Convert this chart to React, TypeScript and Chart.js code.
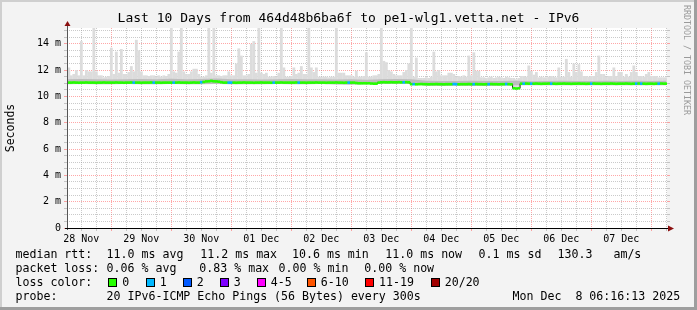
import React, { useEffect, useRef } from 'react';
import { Chart, registerables } from 'chart.js';

Chart.register(...registerables);

const MONO = '"DejaVu Sans Mono", monospace';
const TITLE = 'Last 10 Days from 464d48b6ba6f to pe1-wlg1.vetta.net - IPv6';
const Y_TITLE = 'Seconds';

// x axis: hours since 28 Nov 00:00; graph spans 28 Nov 06:16 .. 08 Dec 06:16
const RANGE_START = 6.27;
const RANGE_END = 246.27;
const dayLabels = ['28 Nov', '29 Nov', '30 Nov', '01 Dec', '02 Dec', '03 Dec', '04 Dec', '05 Dec', '06 Dec', '07 Dec'];
const yMajorTicks = [0, 2, 4, 6, 8, 10, 12, 14];

// hourly bins from 28 Nov 07:00 to 08 Dec 06:00 (240 bins)
const FIRST_BIN_HOUR = 7;

// highest ping of each hourly bin (ms) - the light smoke tops
const smokeMax = [
  12.2, 11.6, 11.7, 12.0, 11.6, 14.2, 11.6, 12.0, 11.9, 11.9, 15.2, 11.9, 11.6, 11.6, 11.45, 11.5, 11.55,
  13.7, 11.7, 13.4, 11.8, 13.6, 11.7, 11.7, 11.85, 12.3, 11.9, 14.3, 13.5, 11.9, 11.6, 11.6, 11.55, 11.6, 11.6, 11.5, 11.6, 11.5, 11.6, 11.55, 11.7,
  15.2, 11.9, 11.8, 13.4, 15.2, 11.9, 11.7, 11.7, 11.9, 12.1, 12.1, 11.7, 11.5, 11.5, 11.6, 15.2, 11.8, 15.2, 11.6, 11.6, 11.55, 11.6, 11.6, 11.9,
  11.6, 11.6, 12.5, 13.65, 13.1, 11.6, 11.6, 11.7, 14.0, 14.2, 11.8, 15.2, 11.8, 11.7, 11.8, 11.5, 11.5, 11.55, 11.5, 11.8, 15.2, 12.2, 11.5, 11.5,
  11.55, 12.2, 11.7, 11.8, 12.3, 11.7, 11.7, 15.2, 12.2, 11.85, 12.2, 11.5, 11.5, 11.5, 11.5, 11.45, 11.5, 11.5, 15.2, 11.8, 11.8, 11.8, 11.6, 11.6,
  11.6, 11.5, 11.95, 11.5, 11.5, 11.55, 13.35, 11.5, 11.5, 11.6, 11.6, 11.7, 15.2, 12.7, 12.6, 12.0, 11.9, 11.7, 11.6, 11.6, 11.6, 11.85, 12.0, 12.5,
  15.2, 11.5, 12.95, 11.4, 11.4, 11.4, 11.45, 11.4, 11.5, 13.4, 11.9, 12.0, 11.6, 11.6, 11.6, 11.8, 11.8, 11.7, 11.5, 11.55, 11.5, 11.6, 11.5, 13.1,
  11.6, 13.35, 11.95, 11.95, 11.45, 11.45, 11.4, 11.45, 11.5, 11.4, 11.45, 11.5, 11.45, 11.4, 11.5, 11.45, 11.4, 11.4, 11.3, 11.4, 11.55, 11.55, 11.5, 12.35,
  11.95, 11.65, 11.85, 11.45, 11.5, 11.45, 11.45, 11.5, 11.55, 11.5, 11.45, 12.2, 11.5, 11.5, 12.85, 11.85, 11.5, 12.5, 11.85, 12.45, 11.9, 11.55, 11.55, 11.5,
  11.55, 11.55, 11.85, 13.1, 11.7, 11.7, 11.5, 11.55, 11.55, 12.2, 11.55, 11.85, 11.85, 11.5, 11.7, 11.5, 11.85, 12.35, 11.85, 11.55, 11.55, 11.5, 11.7, 11.85,
  11.55, 11.55, 11.55, 11.45, 11.45, 11.45, 11.45,
];

// median rtt of each hourly bin (ms)
const median = [
  11.05, 11.05, 11.06, 11.05, 11.04, 11.05, 11.05, 11.06, 11.05, 11.05, 11.05, 11.04, 11.05, 11.05, 11.06, 11.05, 11.05,
  11.05, 11.05, 11.06, 11.05, 11.05, 11.04, 11.05, 11.05, 11.06, 11.05, 11.05, 11.05, 11.04, 11.05, 11.05, 11.05, 11.06, 11.05, 11.05, 11.05, 11.04, 11.05, 11.05, 11.05,
  11.05, 11.05, 11.05, 11.06, 11.05, 11.05, 11.05, 11.04, 11.05, 11.06, 11.05, 11.05, 11.08, 11.1, 11.14, 11.15, 11.18, 11.15, 11.14, 11.12, 11.08, 11.05, 11.05, 11.05,
  11.05, 11.05, 11.04, 11.05, 11.05, 11.06, 11.05, 11.05, 11.05, 11.04, 11.05, 11.05, 11.06, 11.05, 11.05, 11.05, 11.04, 11.05, 11.05, 11.05, 11.06, 11.05, 11.05, 11.05,
  11.05, 11.05, 11.06, 11.05, 11.05, 11.05, 11.04, 11.05, 11.05, 11.05, 11.06, 11.05, 11.05, 11.05, 11.04, 11.05, 11.05, 11.05, 11.06, 11.05, 11.05, 11.04, 11.05, 11.05,
  11.05, 11.05, 11.02, 11.0, 11.0, 11.0, 11.0, 11.0, 10.98, 10.97, 10.97, 11.05, 11.07, 11.08, 11.07, 11.07, 11.08, 11.07, 11.07, 11.08, 11.07, 11.07, 11.08, 11.07,
  10.93, 10.93, 10.92, 10.93, 10.94, 10.93, 10.93, 10.92, 10.93, 10.93, 10.94, 10.93, 10.93, 10.92, 10.93, 10.93, 10.93, 10.94, 10.93, 10.92, 10.93, 10.93, 10.93, 10.94,
  10.93, 10.93, 10.94, 10.93, 10.93, 10.92, 10.93, 10.93, 10.94, 10.93, 10.93, 10.92, 10.93, 10.93, 10.94, 10.93, 10.92, 10.62, 10.6, 10.62, 10.97, 10.97, 10.98, 10.97,
  10.97, 10.97, 10.98, 10.97, 10.96, 10.97, 10.97, 10.98, 10.97, 10.97, 10.96, 10.97, 10.97, 10.98, 10.97, 10.97, 10.96, 10.97, 10.97, 10.98, 10.97, 10.97, 10.96, 10.97,
  10.97, 10.98, 10.97, 10.97, 10.96, 10.97, 10.97, 10.97, 10.98, 10.97, 10.96, 10.97, 10.97, 10.97, 10.98, 10.97, 10.96, 10.97, 10.97, 10.98, 10.97, 10.97, 10.96, 10.97,
  10.97, 10.96, 10.97, 10.97, 10.98, 10.97, 10.97,
];

// hours (since 28 Nov 00:00) of bins that lost 1 of 20 pings
const lossOneHours = [33, 41, 49, 60, 71, 72, 89, 99, 119, 141, 145, 161, 162, 169, 175, 182, 189, 192, 200, 216, 234, 236, 243];

// dense smoke band around the median, every 6 hours
const bandHours = [6, 12, 18, 24, 30, 36, 42, 48, 54, 60, 66, 72, 78, 84, 90, 96, 102, 108, 114, 120, 126, 132, 138, 144,
  150, 156, 162, 168, 174, 180, 186, 192, 198, 204, 210, 216, 222, 228, 234, 240, 246];
const bandHigh = [11.3, 11.32, 11.3, 11.28, 11.3, 11.33, 11.3, 11.35, 11.3, 11.32, 11.36, 11.3, 11.3, 11.28, 11.3, 11.32, 11.3, 11.3, 11.29, 11.3, 11.27, 11.3, 11.32, 11.3,
  11.2, 11.18, 11.17, 11.2, 11.18, 11.17, 11.2, 11.16, 11.18, 11.2, 11.18, 11.17, 11.2, 11.18, 11.2, 11.18, 11.2];
const bandLow = [10.93, 10.94, 10.93, 10.93, 10.94, 10.93, 10.93, 10.94, 10.93, 10.93, 10.94, 10.93, 10.93, 10.93, 10.94, 10.93, 10.93, 10.94, 10.9, 10.88, 10.94, 10.95, 10.95, 10.95,
  10.81, 10.8, 10.81, 10.8, 10.8, 10.81, 10.84, 10.85, 10.84, 10.85, 10.84, 10.85, 10.84, 10.85, 10.84, 10.85, 10.84];

// legend texts
const rttLegend = ['median rtt:', '11.0 ms avg', '11.2 ms max', '10.6 ms min', '11.0 ms now', '0.1 ms sd', '130.3   am/s'];
const lossLegend = ['packet loss:', '0.06 % avg', '0.83 % max', '0.00 % min', '0.00 % now'];
const lossColorLabels = ['0', '1', '2', '3', '4-5', '6-10', '11-19', '20/20'];
const lossColorValues = ['#26ff00', '#00b8ff', '#0059ff', '#7e00ff', '#ff00ff', '#ff5500', '#ff0000', '#a10000'];
const probeLegend = ['probe:', '20 IPv6-ICMP Echo Pings (56 Bytes) every 300s'];
const STAMP = 'Mon Dec  8 06:16:13 2025';
const WATERMARK = 'RRDTOOL / TOBI OETIKER';

const MGRID = 'rgba(255,80,80,0.5)';
const GRID = 'rgba(150,150,150,0.5)';

const binHours = median.map((_, i) => FIRST_BIN_HOUR + i);
const xTickHours: number[] = [];
for (let h = 12; h <= RANGE_END; h += 6) xTickHours.push(h);
const yTickValues: number[] = [];
for (let v = 0; v <= 15; v += 0.5) yTickValues.push(v);

const framePlugin = {
  id: 'frame',
  beforeDraw(chart: any) {
    const { ctx, chartArea } = chart;
    const { left, top, right, bottom } = chartArea;
    ctx.save();
    ctx.fillStyle = '#ffffff';
    ctx.fillRect(left, top, right - left, bottom - top);
    ctx.restore();
  },
  afterDraw(chart: any) {
    const { ctx, chartArea } = chart;
    const { left, top, right, bottom } = chartArea;
    ctx.save();
    ctx.lineWidth = 1;
    ctx.strokeStyle = '#555555';
    ctx.beginPath();
    ctx.moveTo(left + 0.5, bottom + 2);
    ctx.lineTo(left + 0.5, top - 2);
    ctx.stroke();
    ctx.strokeStyle = '#000000';
    ctx.beginPath();
    ctx.moveTo(left - 2, bottom + 0.5);
    ctx.lineTo(right + 2, bottom + 0.5);
    ctx.stroke();
    ctx.fillStyle = '#8b1010';
    ctx.beginPath();
    ctx.moveTo(right + 1, bottom - 2.5);
    ctx.lineTo(right + 7, bottom + 0.5);
    ctx.lineTo(right + 1, bottom + 3.5);
    ctx.closePath();
    ctx.fill();
    ctx.beginPath();
    ctx.moveTo(left - 2.5, top - 2);
    ctx.lineTo(left + 0.5, top - 7);
    ctx.lineTo(left + 3.5, top - 2);
    ctx.closePath();
    ctx.fill();
    ctx.restore();
  },
};

const gridColor = (c: any) => (c.tick && Math.abs(c.tick.value % 24) < 1e-6 ? MGRID : GRID);
const yGridColor = (c: any) => (c.tick && Math.abs(c.tick.value % 2) < 1e-6 ? MGRID : GRID);

export default function App() {
  const ref = useRef<HTMLCanvasElement>(null);

  useEffect(() => {
    document.body.style.margin = '0';
    const canvas = ref.current;
    if (!canvas) return;
    const chart = new Chart(canvas, {
      type: 'bar',
      data: {
        datasets: [
          {
            type: 'bar',
            label: 'smoke',
            data: binHours.map((h, i) => ({ x: h, y: [median[i], smokeMax[i]] })),
            backgroundColor: '#dcdcdc',
            borderWidth: 0,
            grouped: false,
            barPercentage: 1.12,
            categoryPercentage: 1,
            order: 4,
          },
          {
            type: 'line',
            label: 'band low',
            data: bandHours.map((h, i) => ({ x: h, y: bandLow[i] })),
            borderColor: 'transparent',
            borderWidth: 0,
            pointRadius: 0,
            fill: false,
            order: 3,
          },
          {
            type: 'line',
            label: 'band high',
            data: bandHours.map((h, i) => ({ x: h, y: bandHigh[i] })),
            borderColor: 'transparent',
            borderWidth: 0,
            pointRadius: 0,
            fill: '-1',
            backgroundColor: '#bdbdbd',
            order: 3,
          },
          {
            type: 'line',
            label: 'median',
            data: binHours.map((h, i) => ({ x: h, y: median[i] })),
            stepped: 'middle',
            borderColor: '#202020',
            borderWidth: 1,
            pointRadius: 0,
            fill: false,
            order: 2,
          },
          {
            type: 'bar',
            label: 'median by loss',
            data: binHours.map((h, i) => ({ x: h, y: [median[i] - 0.1, median[i] + 0.1] })),
            backgroundColor: binHours.map((h) => (lossOneHours.includes(h) ? lossColorValues[1] : lossColorValues[0])),
            borderWidth: 0,
            grouped: false,
            barPercentage: 1.12,
            categoryPercentage: 1,
            order: 1,
          },
        ] as any,
      },
      plugins: [framePlugin as any],
      options: {
        responsive: false,
        animation: false,
        devicePixelRatio: 1,
        layout: { padding: 0 },
        plugins: {
          legend: { display: false },
          tooltip: { enabled: false },
          title: {
            display: true,
            text: TITLE,
            color: '#000',
            font: { family: MONO, size: 13, weight: 'normal', lineHeight: 1.2 },
            padding: { top: 11, bottom: 1.4 },
          },
        },
        scales: {
          x: {
            type: 'linear',
            min: RANGE_START,
            max: RANGE_END,
            offset: false,
            afterBuildTicks: (s: any) => {
              s.ticks = xTickHours.map((v) => ({ value: v }));
            },
            afterFit: (s: any) => {
              s.height = 82;
            },
            grid: { offset: false, color: gridColor, tickLength: 3, lineWidth: 1 },
            border: { display: false, dash: [1, 1] },
            ticks: {
              autoSkip: false,
              maxRotation: 0,
              minRotation: 0,
              padding: 2,
              color: '#000',
              font: { family: MONO, size: 10 },
              callback: (v: any) => (Math.abs(v % 24 - 12) < 1e-6 ? dayLabels[Math.floor(v / 24)] : ''),
            },
          },
          y: {
            type: 'linear',
            position: 'left',
            min: 0,
            max: 15.2,
            afterBuildTicks: (s: any) => {
              s.ticks = yTickValues.map((v) => ({ value: v }));
            },
            afterFit: (s: any) => {
              s.width = 67;
            },
            grid: { color: yGridColor, tickLength: 3, lineWidth: 1 },
            border: { display: false, dash: [1, 1] },
            ticks: {
              autoSkip: false,
              padding: 3,
              color: '#000',
              font: { family: MONO, size: 10 },
              callback: (v: any) => (yMajorTicks.includes(v) ? (v === 0 ? '0' : `${v} m`) : ''),
            },
            title: {
              display: true,
              text: Y_TITLE,
              color: '#000',
              font: { family: MONO, size: 11.5, lineHeight: 1.2 },
              padding: { top: 4, bottom: 0 },
            },
          },
          y2: {
            type: 'linear',
            position: 'right',
            min: 0,
            max: 15.2,
            afterBuildTicks: (s: any) => {
              s.ticks = yTickValues.map((v) => ({ value: v }));
            },
            afterFit: (s: any) => {
              s.width = 30;
            },
            grid: { color: yGridColor, drawOnChartArea: false, tickLength: 3 },
            border: { display: false },
            ticks: { display: false },
          },
        },
      } as any,
    });
    return () => chart.destroy();
  }, []);

  const text = (left: number, top: number, s: string, key: string) => (
    <span key={key} style={{ position: 'absolute', left, top, fontSize: 11.6, lineHeight: '14px', whiteSpace: 'pre' }}>
      {s}
    </span>
  );

  const rttX = [15.5, 106.6, 200.3, 292, 385.3, 478.6, 557.6];
  const lossX = [15.5, 106.6, 199.3, 278.6, 364.3];
  const boxX = [108.3, 145.7, 182.7, 219.7, 256.7, 306.7, 365, 430.7];

  return (
    <div
      style={{
        position: 'fixed',
        left: 0,
        top: 0,
        width: 697,
        height: 310,
        background: '#f3f3f3',
        overflow: 'hidden',
        fontFamily: MONO,
        color: '#000',
      }}
    >
      <div style={{ position: 'absolute', left: 0, top: 0, width: 697, height: 2, background: '#cfcfcf' }} />
      <div style={{ position: 'absolute', left: 0, top: 0, width: 2, height: 310, background: '#cfcfcf' }} />
      <div style={{ position: 'absolute', left: 0, top: 307, width: 697, height: 3, background: '#9e9e9e' }} />
      <div style={{ position: 'absolute', left: 694, top: 0, width: 3, height: 310, background: '#9e9e9e' }} />
      <canvas ref={ref} width={697} height={310} style={{ position: 'absolute', left: 0, top: 0, width: 697, height: 310 }} />
      {rttLegend.map((s, i) => text(rttX[i], 247, s, 'r' + i))}
      {lossLegend.map((s, i) => text(lossX[i], 261, s, 'l' + i))}
      {text(15.5, 275, 'loss color:', 'lc')}
      {lossColorLabels.map((s, i) => (
        <React.Fragment key={'c' + i}>
          <span
            style={{
              position: 'absolute',
              left: boxX[i],
              top: 278,
              width: 9,
              height: 9,
              boxSizing: 'border-box',
              border: '1px solid #000',
              background: lossColorValues[i],
            }}
          />
          {text(boxX[i] + 14, 275, s, 'cl' + i)}
        </React.Fragment>
      ))}
      {text(15.5, 289, probeLegend[0], 'p0')}
      {text(106.6, 289, probeLegend[1], 'p1')}
      {text(512.6, 289, STAMP, 'stamp')}
      <div
        style={{
          position: 'absolute',
          left: 682,
          top: 5,
          writingMode: 'vertical-rl',
          fontSize: 8.3,
          lineHeight: '9px',
          color: '#9a9a9a',
          whiteSpace: 'pre',
        }}
      >
        {WATERMARK}
      </div>
    </div>
  );
}
